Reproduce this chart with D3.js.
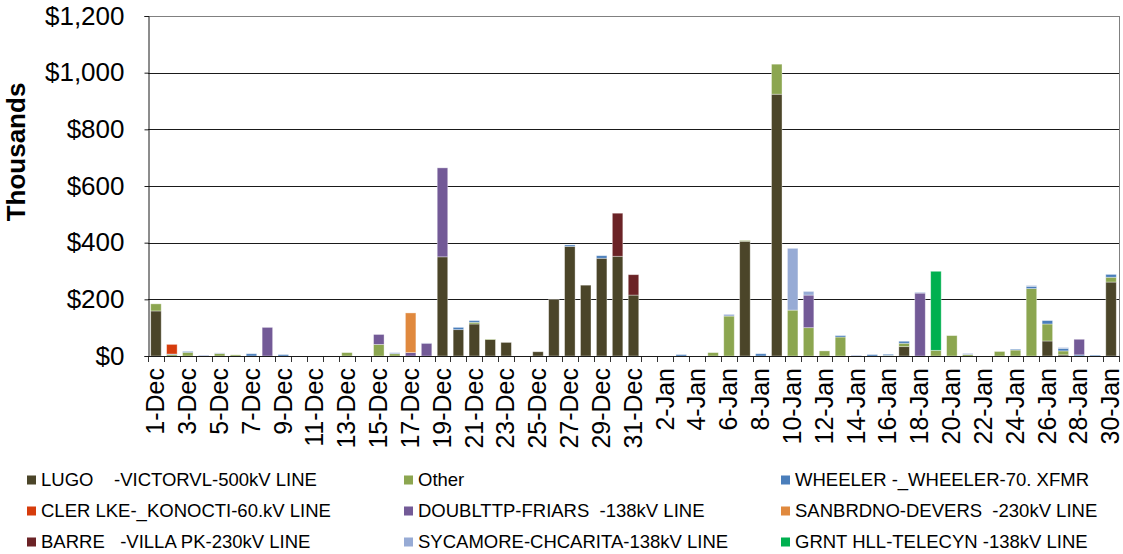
<!DOCTYPE html>
<html><head><meta charset="utf-8">
<script src="https://cdn.jsdelivr.net/npm/d3@7"></script>
<style>
body{margin:0;background:#fff;}
svg{display:block;font-family:"Liberation Sans",Arial,sans-serif;}
</style></head>
<body>
<svg id="chart" width="1123" height="554"></svg>
<script>
// ---- data ----
const categories = [
 "1-Dec","2-Dec","3-Dec","4-Dec","5-Dec","6-Dec","7-Dec","8-Dec","9-Dec","10-Dec",
 "11-Dec","12-Dec","13-Dec","14-Dec","15-Dec","16-Dec","17-Dec","18-Dec","19-Dec","20-Dec",
 "21-Dec","22-Dec","23-Dec","24-Dec","25-Dec","26-Dec","27-Dec","28-Dec","29-Dec","30-Dec","31-Dec",
 "1-Jan","2-Jan","3-Jan","4-Jan","5-Jan","6-Jan","7-Jan","8-Jan","9-Jan","10-Jan",
 "11-Jan","12-Jan","13-Jan","14-Jan","15-Jan","16-Jan","17-Jan","18-Jan","19-Jan","20-Jan",
 "21-Jan","22-Jan","23-Jan","24-Jan","25-Jan","26-Jan","27-Jan","28-Jan","29-Jan","30-Jan"];

const seriesNames = [
 "LUGO    -VICTORVL-500kV LINE",
 "Other",
 "WHEELER -_WHEELER-70. XFMR",
 "CLER LKE-_KONOCTI-60.kV LINE",
 "DOUBLTTP-FRIARS  -138kV LINE",
 "SANBRDNO-DEVERS  -230kV LINE",
 "BARRE   -VILLA PK-230kV LINE",
 "SYCAMORE-CHCARITA-138kV LINE",
 "GRNT HLL-TELECYN -138kV LINE"];

const seriesColors = ["#4b4529","#8ca650","#4a7ebb","#d63c0c","#735a97","#e0893e","#6b2326","#97abd5","#00b050"];

// values in thousands of dollars, Dec 1 .. Jan 30
const lugo = [159,0,0,0,0,0,0,0,0,0, 0,0,0,0,0,0,0,0,350,93, 113,58,48,0,15,200,387,250,345,352,215,
              0,0,0,0,0,0,405,0,924,0, 0,0,0,0,0,0,33,0,0,0, 0,0,0,0,0,53,4,0,0,261];
const other = [25,5,13,0,9,4,0,0,0,0, 0,0,12,0,41,8,0,0,0,0, 6,2,0,0,0,0,0,0,0,0,0,
               0,0,0,0,12,141,3,0,106,162, 100,18,67,0,0,2,12,0,20,72, 5,0,16,21,238,60,14,0,0,17];
const wheeler = [0,2,3,0,0,0,8,0,5,0, 0,0,0,0,0,0,0,0,0,8, 6,0,0,0,0,0,5,0,9,0,0,
                 0,0,5,0,0,0,0,8,0,0, 0,0,5,0,5,4,7,0,0,0, 0,0,0,3,8,12,9,4,3,10];
const clerLke = [0,34,0,0,0,0,0,0,0,0, 0,0,0,0,0,0,0,0,0,0, 0,0,0,0,0,0,0,0,0,0,0,
                 0,0,0,0,0,0,0,0,0,0, 0,0,0,0,0,0,0,0,0,0, 0,0,0,0,0,0,0,0,0,0];
const doublttp = [0,0,0,0,0,0,0,101,0,0, 0,0,0,0,35,0,12,45,314,0, 0,0,0,0,0,0,0,0,0,0,0,
                  0,0,0,0,0,0,0,0,0,0, 115,0,0,0,0,0,0,222,0,0, 0,0,0,0,0,0,0,55,0,0];
const sanbrdno = [0,0,0,0,0,0,0,0,0,0, 0,0,0,0,0,0,140,0,0,0, 0,0,0,0,0,0,0,0,0,0,0,
                  0,0,0,0,0,0,0,0,0,0, 0,0,0,0,0,0,0,0,0,0, 0,0,0,0,0,0,0,0,0,0];
const barre = [0,0,0,0,0,0,0,0,0,0, 0,0,0,0,0,0,0,0,0,0, 0,0,0,0,0,0,0,0,0,152,72,
               0,0,0,0,0,0,0,0,0,0, 0,0,0,0,0,0,0,0,0,0, 0,0,0,0,0,0,0,0,0,0];
const sycamore = [0,0,0,3,2,0,0,0,0,0, 0,0,0,0,0,4,0,1,0,0, 0,0,0,0,0,0,0,0,0,0,0,
                  0,0,0,0,0,6,0,0,0,218, 13,0,0,3,0,0,0,3,0,0, 4,0,0,0,3,0,3,0,0,0];
const grntHll = [0,0,0,0,0,0,0,0,0,0, 0,0,0,0,0,0,0,0,0,0, 0,0,0,0,0,0,0,0,0,0,0,
                 0,0,0,0,0,0,0,0,0,0, 0,0,0,0,0,0,0,0,279,0, 0,0,0,0,0,0,0,0,0,0];

const yTicks = [0,200,400,600,800,1000,1200];

// ---- build table ----
const seriesValues = [lugo, other, wheeler, clerLke, doublttp, sanbrdno, barre, sycamore, grntHll];
const keys = seriesNames.map((d,i)=>"s"+i);
const table = categories.map((c,j)=>{
  const row = {cat:c};
  keys.forEach((k,i)=>row[k]=seriesValues[i][j]);
  return row;
});
const stacked = d3.stack().keys(keys)(table);

// ---- layout ----
const svg = d3.select("#chart");
const L = 148, R = 1119, T = 16, B = 356;

const x = d3.scaleBand().domain(categories).range([L,R]).paddingInner(0.34).paddingOuter(0.17);
const y = d3.scaleLinear().domain([0,1200]).range([B,T]);

// gridlines
svg.append("g").selectAll("line").data(yTicks.filter(d=>d>0)).join("line")
  .attr("x1",L).attr("x2",R)
  .attr("y1",d=>Math.round(y(d))+0.5).attr("y2",d=>Math.round(y(d))+0.5)
  .attr("stroke",d=>d===1200?"#808080":"#1a1a1a").attr("stroke-width",1);
// right frame
svg.append("line").attr("x1",R+0.5).attr("x2",R+0.5).attr("y1",T).attr("y2",B)
  .attr("stroke","#808080");

// bars
svg.append("g").selectAll("g").data(stacked).join("g")
  .attr("fill",(d,i)=>seriesColors[i])
  .selectAll("rect").data(d=>d.filter(p=>p[1]-p[0]>0)).join("rect")
  .attr("x",d=>x(d.data.cat))
  .attr("width",x.bandwidth())
  .attr("y",d=>y(d[1]))
  .attr("height",d=>y(d[0])-y(d[1]))
  .attr("stroke","rgba(255,255,255,0.45)").attr("stroke-width",0.8);

// y axis
const yAxis = svg.append("g").attr("transform",`translate(${L+0.5},0)`)
  .call(d3.axisLeft(y).tickValues(yTicks).tickFormat(d3.format("$,.0f")).tickSize(4).tickPadding(20));
yAxis.select(".domain").attr("stroke","#1a1a1a");
yAxis.selectAll(".tick line").attr("stroke","#1a1a1a");
yAxis.selectAll("text").attr("font-size",26).attr("fill","#000")
  .attr("font-family","'Liberation Sans',Arial,sans-serif");

// x axis: ticks at category boundaries
const bounds = d3.range(categories.length+1).map(i=>L + (R-L)*i/categories.length);
svg.append("g").selectAll("line").data(bounds).join("line")
  .attr("x1",d=>Math.round(d)+0.5).attr("x2",d=>Math.round(d)+0.5)
  .attr("y1",B).attr("y2",B+6).attr("stroke","#333");
svg.append("line").attr("x1",L).attr("x2",R).attr("y1",B+0.5).attr("y2",B+0.5).attr("stroke","#1a1a1a");

svg.append("g").selectAll("text").data(categories.filter((c,i)=>i%2===0)).join("text")
  .attr("transform",d=>`translate(${x(d)+x.bandwidth()/2},${B+12}) rotate(-90)`)
  .attr("text-anchor","end").attr("dy","0.33em")
  .attr("font-size",25).attr("fill","#000")
  .text(d=>d);

// y title
svg.append("text").attr("transform","translate(16,152) rotate(-90)")
  .attr("text-anchor","middle").attr("dy","0.35em")
  .attr("font-size",26).attr("font-weight","bold").attr("fill","#000")
  .text("Thousands");

// legend
const colX = [27, 404, 781];
const rowY = [480, 511, 542];
const leg = svg.append("g").selectAll("g").data(seriesNames).join("g")
  .attr("transform",(d,i)=>`translate(${colX[i%3]},${rowY[Math.floor(i/3)]})`);
leg.append("rect").attr("x",0).attr("y",-4.5).attr("width",9).attr("height",9)
  .attr("fill",(d,i)=>seriesColors[i]);
leg.append("text").attr("x",14).attr("dy","0.35em").attr("font-size",18.5).attr("fill","#000")
  .style("white-space","pre").text(d=>d);
</script>
</body></html>
